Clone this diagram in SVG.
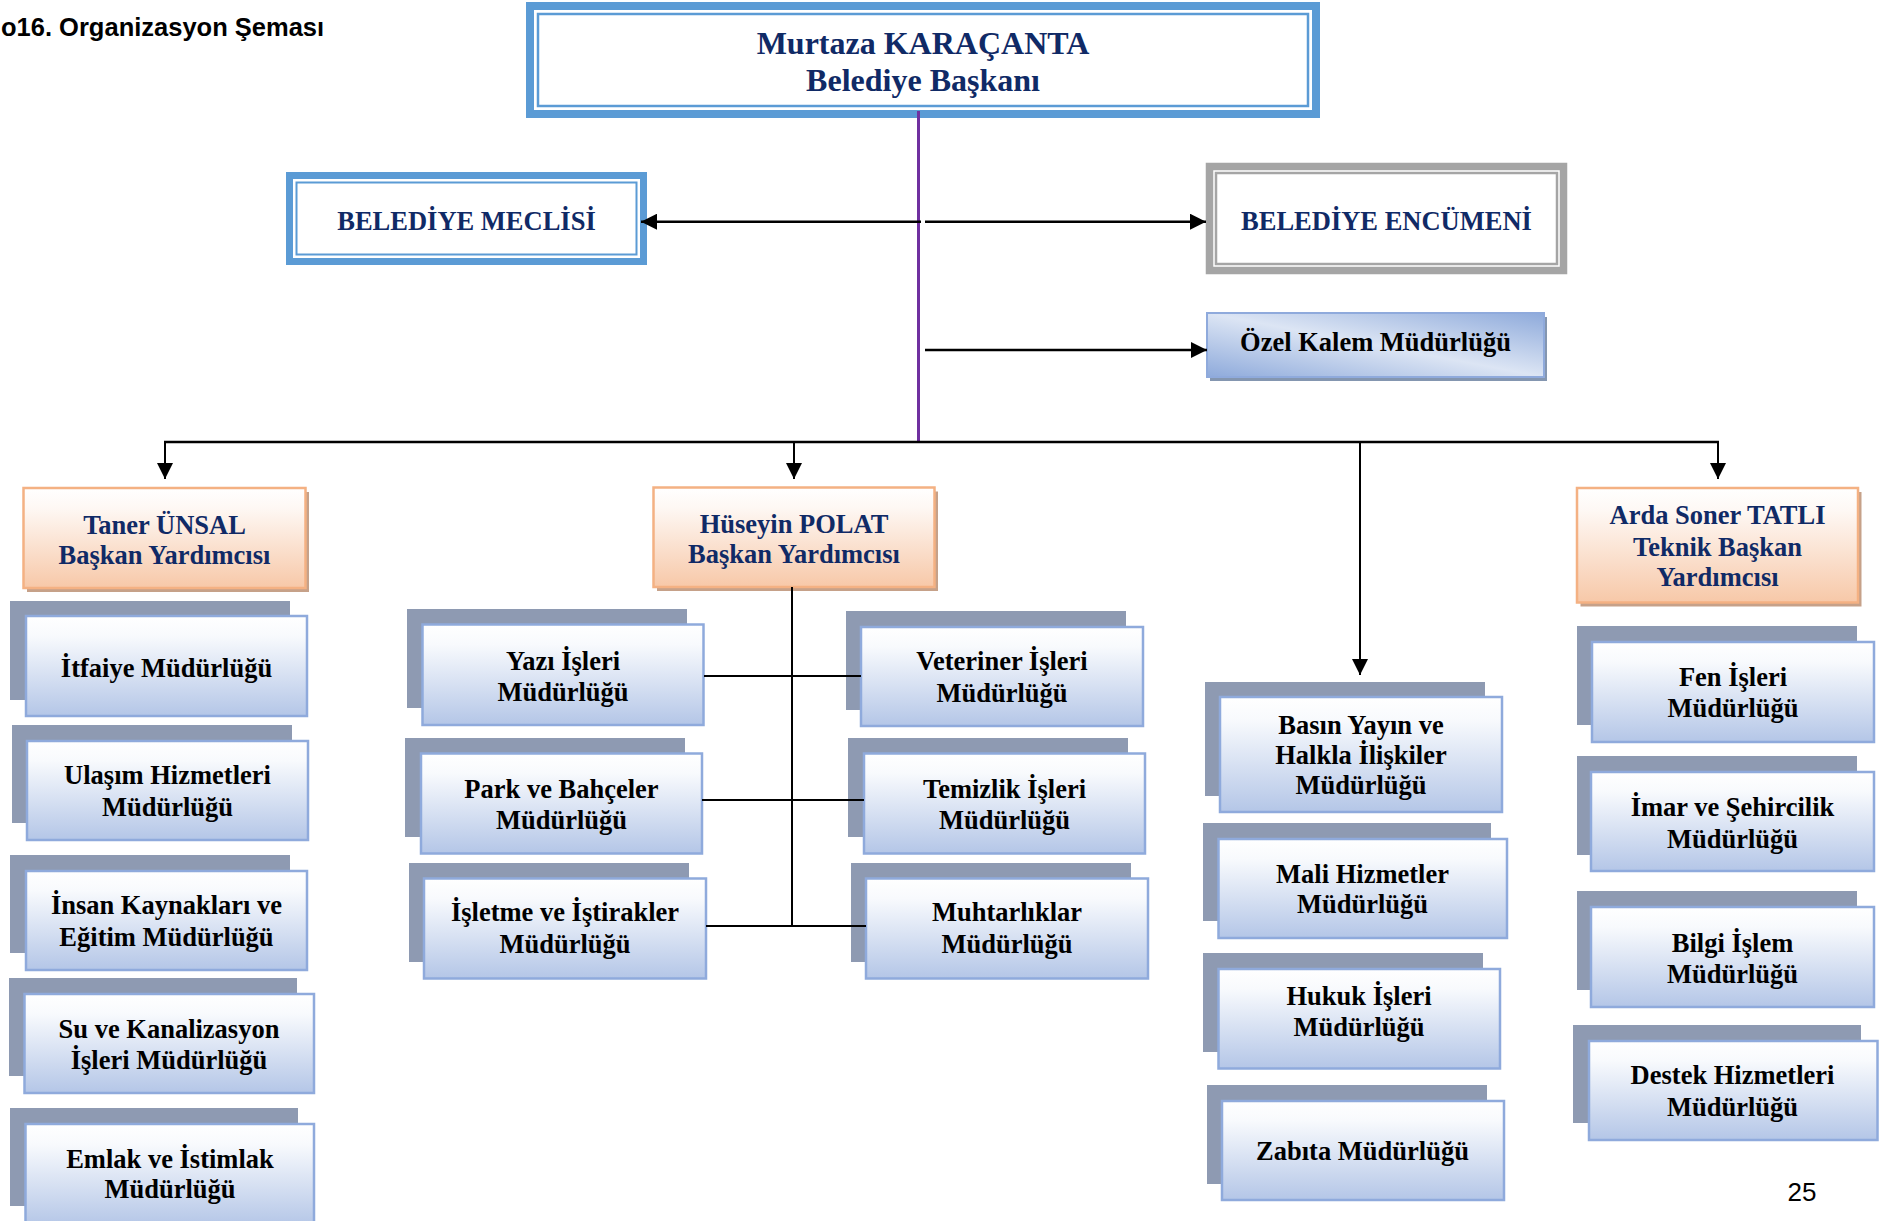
<svg xmlns="http://www.w3.org/2000/svg" width="1890" height="1221" viewBox="0 0 1890 1221">
<style>
.t{font-family:"Liberation Serif","Times New Roman",serif;font-weight:bold;font-size:26.5px;text-anchor:middle;fill:#000;transform:translate(0px,1px)}
.nv{fill:#102A66}
.big{font-size:32px}
.sh{fill:#8E9AB2}
.db{fill:url(#gDept);stroke:#8FAADC;stroke-width:2.5}
.vp{fill:url(#gVP);stroke:#F4B183;stroke-width:2.5}
.vpsh{fill:#C6A189}
.ln{stroke:#000;stroke-width:2;fill:none}
.ar{stroke:#000;stroke-width:2.5;fill:none}
</style>
<defs>
<linearGradient id="gDept" x1="0" y1="0" x2="0" y2="1">
<stop offset="0" stop-color="#FFFFFF"/>
<stop offset="0.2" stop-color="#F8FAFD"/>
<stop offset="1" stop-color="#B4C6E7"/>
</linearGradient>
<linearGradient id="gVP" x1="0" y1="0" x2="0" y2="1">
<stop offset="0" stop-color="#FFFFFF"/>
<stop offset="0.2" stop-color="#FEF8F4"/>
<stop offset="1" stop-color="#F7C8A8"/>
</linearGradient>
<linearGradient id="gOzel" x1="0" y1="1" x2="1" y2="0">
<stop offset="0" stop-color="#8EAADB"/>
<stop offset="0.5" stop-color="#DCE5F4"/>
<stop offset="1" stop-color="#8EAADB"/>
</linearGradient>
<marker id="ah" viewBox="0 0 10 10" refX="10" refY="5" markerWidth="16" markerHeight="16" markerUnits="userSpaceOnUse" orient="auto">
<path d="M0,0 L10,5 L0,10 z" fill="#000"/>
</marker>
</defs>

<text x="1" y="36" style="font-family:'Liberation Sans',Arial,sans-serif;font-weight:bold;font-size:25.5px;fill:#000">o16. Organizasyon Şeması</text>
<text x="1802" y="1201" style="font-family:'Liberation Sans',Arial,sans-serif;font-size:26px;fill:#000;text-anchor:middle">25</text>

<g id="baskan">
<rect x="530" y="6" width="786" height="108" fill="#fff" stroke="#5B9BD5" stroke-width="8"/>
<rect x="538" y="14" width="770" height="92" fill="none" stroke="#5B9BD5" stroke-width="2.5"/>
<text class="t nv big" x="923" y="53">Murtaza KARAÇANTA</text>
<text class="t nv big" x="923" y="90">Belediye Başkanı</text>
</g>

<g id="meclis">
<rect x="289.5" y="175.5" width="354" height="86" fill="#fff" stroke="#5B9BD5" stroke-width="7"/>
<rect x="296.5" y="182.5" width="340" height="72" fill="none" stroke="#5B9BD5" stroke-width="2"/>
<text class="t nv" x="466.5" y="229">BELEDİYE MECLİSİ</text>
</g>

<g id="encumen">
<rect x="1209.5" y="166.5" width="354" height="104" fill="#fff" stroke="#A5A5A5" stroke-width="7.5"/>
<rect x="1216" y="173" width="341" height="91" fill="none" stroke="#A5A5A5" stroke-width="2.5"/>
<text class="t nv" x="1386.5" y="229">BELEDİYE ENCÜMENİ</text>
</g>

<g id="ozelkalem">
<rect x="1210" y="317" width="337" height="64" fill="#8496B0"/>
<rect x="1207" y="313" width="337" height="64" fill="url(#gOzel)" stroke="#8FAADC" stroke-width="2"/>
<text class="t" x="1375.5" y="350">Özel Kalem Müdürlüğü</text>
</g>

<g id="taner">
<rect class="vpsh" x="27" y="492" width="282" height="100"/>
<rect class="vp" x="23.5" y="488" width="282" height="100"/>
<text class="t nv" x="164.5" y="532.7">Taner ÜNSAL</text>
<text class="t nv" x="164.5" y="563.3">Başkan Yardımcısı</text>
</g>

<g id="huseyin">
<rect class="vpsh" x="657" y="491.5" width="281" height="99.5"/>
<rect class="vp" x="653.5" y="487.5" width="281" height="99.5"/>
<text class="t nv" x="794" y="531.7">Hüseyin POLAT</text>
<text class="t nv" x="794" y="561.7">Başkan Yardımcısı</text>
</g>

<g id="arda">
<rect class="vpsh" x="1580.5" y="492" width="281" height="114.5"/>
<rect class="vp" x="1577" y="488" width="281" height="114.5"/>
<text class="t nv" x="1717.5" y="523.3">Arda Soner TATLI</text>
<text class="t nv" x="1717.5" y="555">Teknik Başkan</text>
<text class="t nv" x="1717.5" y="585">Yardımcısı</text>
</g>

<g id="itfaiye">
<rect class="sh" x="10" y="601" width="280" height="99"/>
<rect class="db" x="26" y="616" width="281" height="100"/>
<text class="t" x="166.5" y="676">İtfaiye Müdürlüğü</text>
</g>
<g id="ulasim">
<rect class="sh" x="12" y="725" width="280" height="98"/>
<rect class="db" x="27" y="741" width="281" height="99"/>
<text class="t" x="167.5" y="783.3">Ulaşım Hizmetleri</text>
<text class="t" x="167.5" y="815">Müdürlüğü</text>
</g>
<g id="insan">
<rect class="sh" x="10" y="855" width="280" height="98"/>
<rect class="db" x="26" y="871" width="281" height="99"/>
<text class="t" x="166.5" y="913.3">İnsan Kaynakları ve</text>
<text class="t" x="166.5" y="945">Eğitim Müdürlüğü</text>
</g>
<g id="su">
<rect class="sh" x="9" y="978" width="288" height="98"/>
<rect class="db" x="24.5" y="994" width="289.5" height="99"/>
<text class="t" x="169" y="1036.7">Su ve Kanalizasyon</text>
<text class="t" x="169" y="1068.3">İşleri Müdürlüğü</text>
</g>
<g id="emlak">
<rect class="sh" x="10" y="1108" width="288" height="98"/>
<rect class="db" x="25.5" y="1124" width="288.5" height="102"/>
<text class="t" x="170" y="1166.7">Emlak ve İstimlak</text>
<text class="t" x="170" y="1197.3">Müdürlüğü</text>
</g>

<g id="yazi">
<rect class="sh" x="407" y="609" width="280" height="99"/>
<rect class="db" x="422.5" y="624.5" width="281" height="100.5"/>
<text class="t" x="563" y="669">Yazı İşleri</text>
<text class="t" x="563" y="700">Müdürlüğü</text>
</g>
<g id="park">
<rect class="sh" x="405" y="738" width="280" height="99"/>
<rect class="db" x="421" y="753.5" width="281" height="100"/>
<text class="t" x="561.5" y="797.3">Park ve Bahçeler</text>
<text class="t" x="561.5" y="828.3">Müdürlüğü</text>
</g>
<g id="isletme">
<rect class="sh" x="409" y="863" width="280" height="99"/>
<rect class="db" x="424" y="878.5" width="282" height="100"/>
<text class="t" x="565" y="920">İşletme ve İştirakler</text>
<text class="t" x="565" y="951.7">Müdürlüğü</text>
</g>
<g id="veteriner">
<rect class="sh" x="846" y="611" width="280" height="99"/>
<rect class="db" x="861" y="627" width="282" height="99"/>
<text class="t" x="1002" y="669.3">Veteriner İşleri</text>
<text class="t" x="1002" y="701">Müdürlüğü</text>
</g>
<g id="temizlik">
<rect class="sh" x="848" y="738" width="280" height="99"/>
<rect class="db" x="864" y="753.5" width="281" height="100"/>
<text class="t" x="1004.5" y="797.3">Temizlik İşleri</text>
<text class="t" x="1004.5" y="828.3">Müdürlüğü</text>
</g>
<g id="muhtarliklar">
<rect class="sh" x="851" y="863" width="280" height="99"/>
<rect class="db" x="866" y="878.5" width="282" height="100"/>
<text class="t" x="1007" y="920">Muhtarlıklar</text>
<text class="t" x="1007" y="951.7">Müdürlüğü</text>
</g>

<g id="basin">
<rect class="sh" x="1205" y="682" width="280" height="114"/>
<rect class="db" x="1220" y="697" width="282" height="115"/>
<text class="t" x="1361" y="733.3">Basın Yayın ve</text>
<text class="t" x="1361" y="763.3">Halkla İlişkiler</text>
<text class="t" x="1361" y="793.3">Müdürlüğü</text>
</g>
<g id="mali">
<rect class="sh" x="1203" y="823" width="288" height="98"/>
<rect class="db" x="1218.5" y="839" width="288.5" height="99"/>
<text class="t" x="1362.5" y="881.7">Mali Hizmetler</text>
<text class="t" x="1362.5" y="911.7">Müdürlüğü</text>
</g>
<g id="hukuk">
<rect class="sh" x="1203" y="953" width="280" height="99"/>
<rect class="db" x="1218.5" y="969" width="281.5" height="99.5"/>
<text class="t" x="1359" y="1004">Hukuk İşleri</text>
<text class="t" x="1359" y="1035">Müdürlüğü</text>
</g>
<g id="zabita">
<rect class="sh" x="1207" y="1085" width="280" height="99"/>
<rect class="db" x="1222" y="1101" width="282" height="99"/>
<text class="t" x="1362.5" y="1159.3">Zabıta Müdürlüğü</text>
</g>

<g id="fen">
<rect class="sh" x="1577" y="626" width="280" height="99"/>
<rect class="db" x="1592" y="642" width="282" height="100"/>
<text class="t" x="1733" y="685">Fen İşleri</text>
<text class="t" x="1733" y="716">Müdürlüğü</text>
</g>
<g id="imar">
<rect class="sh" x="1577" y="756" width="280" height="99"/>
<rect class="db" x="1591" y="772" width="283" height="99"/>
<text class="t" x="1732.5" y="815">İmar ve Şehircilik</text>
<text class="t" x="1732.5" y="846.7">Müdürlüğü</text>
</g>
<g id="bilgi">
<rect class="sh" x="1577" y="891" width="280" height="99"/>
<rect class="db" x="1591" y="907" width="283" height="100"/>
<text class="t" x="1732.5" y="950.7">Bilgi İşlem</text>
<text class="t" x="1732.5" y="981.7">Müdürlüğü</text>
</g>
<g id="destek">
<rect class="sh" x="1573" y="1025" width="288" height="98"/>
<rect class="db" x="1589" y="1041" width="288.5" height="99"/>
<text class="t" x="1732.5" y="1083.3">Destek Hizmetleri</text>
<text class="t" x="1732.5" y="1115">Müdürlüğü</text>
</g>

<g id="connectors">
<line x1="918.5" y1="111" x2="918.5" y2="443" stroke="#7030A0" stroke-width="3"/>
<line class="ar" x1="921" y1="221.7" x2="641" y2="221.7" marker-end="url(#ah)"/>
<line class="ar" x1="925" y1="221.7" x2="1206" y2="221.7" marker-end="url(#ah)"/>
<line class="ar" x1="925" y1="350" x2="1207" y2="350" marker-end="url(#ah)"/>
<line x1="164" y1="442" x2="1719" y2="442" stroke="#000" stroke-width="2.5"/>
<line class="ln" x1="165" y1="442" x2="165" y2="479" marker-end="url(#ah)"/>
<line class="ln" x1="794" y1="442" x2="794" y2="479" marker-end="url(#ah)"/>
<line class="ln" x1="1718" y1="442" x2="1718" y2="479" marker-end="url(#ah)"/>
<line class="ln" x1="1360" y1="442" x2="1360" y2="675" marker-end="url(#ah)"/>
<line class="ln" x1="792" y1="587" x2="792" y2="926"/>
<line class="ln" x1="704" y1="676" x2="861" y2="676"/>
<line class="ln" x1="702" y1="800" x2="864" y2="800"/>
<line class="ln" x1="706" y1="926" x2="866" y2="926"/>
</g>
</svg>
